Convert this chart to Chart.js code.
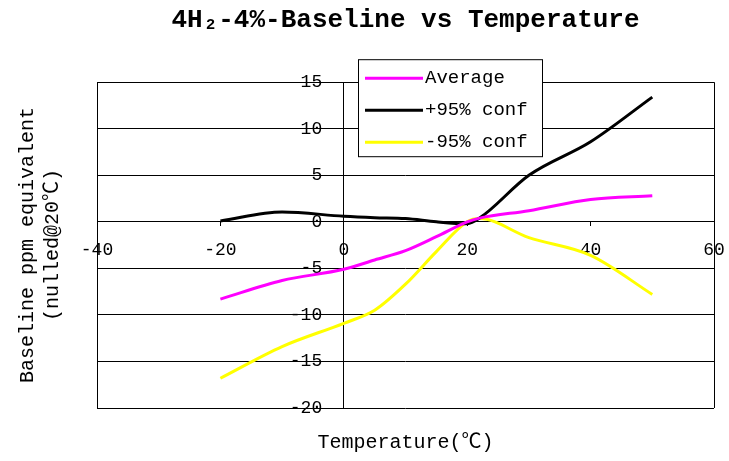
<!DOCTYPE html>
<html>
<head>
<meta charset="utf-8">
<script src="https://cdn.jsdelivr.net/npm/chart.js@4"></script>
<style>
  html, body { margin: 0; padding: 0; background: #fff; }
  #wrap { width: 729px; height: 461px; }
</style>
</head>
<body>
<div id="wrap"><canvas id="chart"></canvas></div>
<script>
// values
const temps = [-20, -10, 0, 5, 10, 15, 20, 22, 30, 40, 50];
const average = [-8.3, -6.3, -5.1, -4.1, -3.1, -1.6, 0, 0.4, 1.2, 2.4, 2.8];
const upper95 = [0.1, 1.05, 0.6, 0.45, 0.35, 0, -0.2, 0.4, 5.0, 8.6, 13.4];
const lower95 = [-16.8, -13.4, -10.9, -9.5, -6.7, -3.2, 0, 0.35, -1.7, -3.6, -7.8];
const seriesLabels = ['Average', '+95% conf', '-95% conf'];
const xTicks = {min: -40, max: 60, step: 20};
const yTicks = {min: -20, max: 15, step: 5};

const MONO = '"Liberation Mono", "Noto Sans CJK SC", monospace';

const toPoints = (vals) => vals.map((v, i) => ({x: temps[i], y: v}));

// legend box drawn like the spreadsheet one (framed, overlapping the plot top)
const boxLegend = {
  id: 'boxLegend',
  afterDraw(chart) {
    const {ctx, chartArea} = chart;
    const left = chartArea.left + 261;
    const top = chartArea.top - 23;
    const w = 184, h = 97;
    ctx.save();
    ctx.fillStyle = '#fff';
    ctx.fillRect(left, top, w, h);
    ctx.strokeStyle = '#000';
    ctx.lineWidth = 1;
    ctx.strokeRect(left + 0.5, top + 0.5, w, h);
    ctx.font = '19px ' + MONO;
    ctx.textBaseline = 'middle';
    chart.data.datasets.forEach((ds, i) => {
      const y = top + 19 + i * 32;
      ctx.strokeStyle = ds.borderColor;
      ctx.lineWidth = 3;
      ctx.beginPath();
      ctx.moveTo(left + 7, y);
      ctx.lineTo(left + 65, y);
      ctx.stroke();
      ctx.fillStyle = '#000';
      ctx.fillText(ds.label, left + 67, y);
    });
    ctx.restore();
  }
};

const lineStyle = {
  borderWidth: 3,
  pointRadius: 0,
  cubicInterpolationMode: 'monotone',
  fill: false,
};

// the edge scales only carry the axis titles
const titleOnly = (axis, position, title) => ({
  type: 'linear',
  axis: axis,
  position: position,
  ticks: {display: false},
  grid: {display: false, drawTicks: false},
  border: {display: false},
  title: title,
});

const config = {
  type: 'line',
  data: {
    datasets: [
      {label: seriesLabels[0], data: toPoints(average), borderColor: '#ff00ff', ...lineStyle},
      {label: seriesLabels[1], data: toPoints(upper95), borderColor: '#000000', ...lineStyle},
      {label: seriesLabels[2], data: toPoints(lower95), borderColor: '#ffff00', ...lineStyle},
    ],
  },
  options: {
    responsive: true,
    maintainAspectRatio: false,
    animation: false,
    layout: {padding: {left: 0, right: 15, top: 0, bottom: 0}},
    plugins: {
      legend: {display: false},
      tooltip: {enabled: false},
      title: {
        display: true,
        fullSize: false,
        text: '4H₂-4%-Baseline vs Temperature',
        color: '#000',
        font: {family: MONO, size: 26, weight: 'bold'},
        padding: {top: 5, bottom: 46},
      },
    },
    scales: {
      x: {
        type: 'linear',
        position: {y: 0},
        min: xTicks.min,
        max: xTicks.max,
        ticks: {stepSize: xTicks.step, color: '#000', font: {family: MONO, size: 18}, padding: 14, maxRotation: 0},
        grid: {
          drawOnChartArea: true,
          color: (c) => (c.tick && (c.tick.value === xTicks.min || c.tick.value === xTicks.max)) ? '#000' : 'rgba(0,0,0,0)',
          tickColor: '#000',
          tickLength: 4,
        },
        border: {display: true, color: '#000', width: 1},
        // end labels may hang outside the plot, like the original
        afterFit: (scale) => {
          scale.paddingLeft = 0;
          scale.paddingRight = 0;
        },
      },
      y: {
        type: 'linear',
        position: {x: 0},
        min: yTicks.min,
        max: yTicks.max,
        ticks: {
          stepSize: yTicks.step,
          color: '#000',
          font: {family: MONO, size: 18},
          callback: (v) => v + '  ',
        },
        grid: {color: '#000', tickLength: 4},
        border: {display: true, color: '#000', width: 1},
      },
      xt: titleOnly('x', 'bottom', {
        display: true,
        text: 'Temperature(℃)',
        color: '#000',
        font: {family: MONO, size: 20},
        padding: {top: 23, bottom: 6},
      }),
      yt: titleOnly('y', 'left', {
        display: true,
        text: ['Baseline ppm equivalent', '(nulled@20℃)'],
        color: '#000',
        font: {family: MONO, size: 20, lineHeight: '25px'},
        padding: {top: 15.5, bottom: 31.5},
      }),
    },
  },
  plugins: [boxLegend],
};

const ctx = document.getElementById('chart');
if (ctx) {
  window.tempChart = new Chart(ctx, config);
}
</script>
</body>
</html>
